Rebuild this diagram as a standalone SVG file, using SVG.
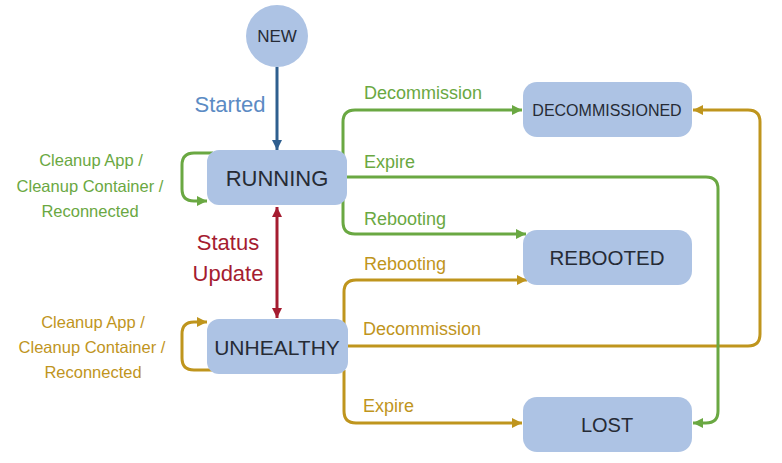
<svg xmlns="http://www.w3.org/2000/svg" width="782" height="463" viewBox="0 0 782 463">
<style>
.node{fill:#adc3e4}
.nt{font-family:"Liberation Sans",Arial,sans-serif;fill:#262b35;text-anchor:middle}
.lbl{font-family:"Liberation Sans",Arial,sans-serif;font-size:18px}
.g{fill:#6aa842}
.y{fill:#bf951d}
.c{fill:none;stroke-width:3}
.gs{stroke:#6aa842}
.ys{stroke:#bf951d}
</style>
<defs>
<marker id="ag" viewBox="0 0 10 10" refX="10" refY="5" markerWidth="10" markerHeight="10" markerUnits="userSpaceOnUse" orient="auto"><path d="M0,0 L10,5 L0,10 z" fill="#6aa842"/></marker>
<marker id="ay" viewBox="0 0 10 10" refX="10" refY="5" markerWidth="10" markerHeight="10" markerUnits="userSpaceOnUse" orient="auto"><path d="M0,0 L10,5 L0,10 z" fill="#bf951d"/></marker>
<marker id="ab" viewBox="0 0 10 10" refX="10" refY="5" markerWidth="10" markerHeight="10" markerUnits="userSpaceOnUse" orient="auto"><path d="M0,0 L10,5 L0,10 z" fill="#2f5f8f"/></marker>
<marker id="ar" viewBox="0 0 10 10" refX="10" refY="5" markerWidth="10" markerHeight="10" markerUnits="userSpaceOnUse" orient="auto-start-reverse"><path d="M0,0 L10,5 L0,10 z" fill="#a51c30"/></marker>
</defs>
<g id="connectors">
<path class="c" stroke="#2f5f8f" d="M277 67 V150" marker-end="url(#ab)"/>
<path class="c" stroke="#a51c30" d="M277 207 V318" marker-start="url(#ar)" marker-end="url(#ar)"/>
<path class="c gs" d="M213 153 H194 Q182 153 182 165 V189 Q182 201 194 201 H207" marker-end="url(#ag)"/>
<path class="c ys" d="M213 370 H194 Q182 370 182 358 V334 Q182 322 194 322 H207" marker-end="url(#ay)"/>
<path class="c gs" d="M343 155 V122 Q343 110 355 110 H522" marker-end="url(#ag)"/>
<path class="c gs" d="M343 200 V222 Q343 234 355 234 H526" marker-end="url(#ag)"/>
<path class="c ys" d="M348 346 H748 Q760 346 760 334 V122 Q760 110 748 110 H693" marker-end="url(#ay)"/>
<path class="c gs" d="M347 177 H706 Q718 177 718 189 V411 Q718 423 706 423 H693" marker-end="url(#ag)"/>
<path class="c ys" d="M344 325 V292 Q344 280 356 280 H527" marker-end="url(#ay)"/>
<path class="c ys" d="M344 370 V411 Q344 423 356 423 H522" marker-end="url(#ay)"/>
</g>
<g id="labels">
<text x="230" y="112" font-family="Liberation Sans,Arial,sans-serif" font-size="22" fill="#5b8bc4" text-anchor="middle">Started</text>
<text x="228" y="250" font-family="Liberation Sans,Arial,sans-serif" font-size="22" fill="#a51c30" text-anchor="middle">Status</text>
<text x="228" y="281" font-family="Liberation Sans,Arial,sans-serif" font-size="22" fill="#a51c30" text-anchor="middle">Update</text>
<g font-family="Liberation Sans,Arial,sans-serif" font-size="16.5" text-anchor="middle" fill="#6aa842">
<text x="91" y="166">Cleanup App /</text>
<text x="90" y="192">Cleanup Container /</text>
<text x="90" y="217">Reconnected</text>
</g>
<g font-family="Liberation Sans,Arial,sans-serif" font-size="16.5" text-anchor="middle" fill="#bf951d">
<text x="93" y="328">Cleanup App /</text>
<text x="92" y="353">Cleanup Container /</text>
<text x="93" y="378">Reconnected</text>
</g>
<text class="lbl g" x="364" y="99">Decommission</text>
<text class="lbl g" x="364" y="168">Expire</text>
<text class="lbl g" x="364" y="225">Rebooting</text>
<text class="lbl y" x="364" y="270">Rebooting</text>
<text class="lbl y" x="363" y="335">Decommission</text>
<text class="lbl y" x="363" y="412">Expire</text>
</g>
<g id="new"><circle class="node" cx="277" cy="36" r="31"/><text class="nt" x="277" y="42" font-size="17">NEW</text></g>
<g id="running"><rect class="node" x="207" y="150" width="140" height="55" rx="12"/><text class="nt" x="277" y="186" font-size="22">RUNNING</text></g>
<g id="unhealthy"><rect class="node" x="207" y="319" width="141" height="55" rx="12"/><text class="nt" x="277" y="355" font-size="21">UNHEALTHY</text></g>
<g id="decommissioned"><rect class="node" x="523" y="82" width="169" height="55" rx="14"/><text class="nt" x="607" y="116" font-size="16">DECOMMISSIONED</text></g>
<g id="rebooted"><rect class="node" x="523" y="230" width="169" height="55" rx="14"/><text class="nt" x="607" y="265" font-size="20.5">REBOOTED</text></g>
<g id="lost"><rect class="node" x="523" y="397" width="169" height="55" rx="14"/><text class="nt" x="607" y="432" font-size="20">LOST</text></g>
</svg>
